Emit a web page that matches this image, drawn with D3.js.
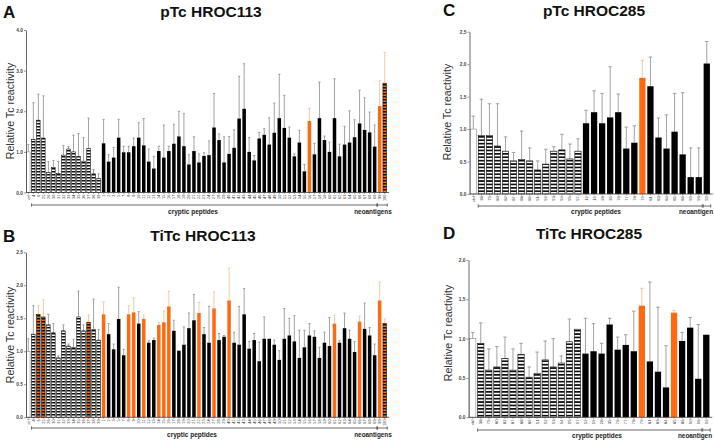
<!DOCTYPE html>
<html><head><meta charset="utf-8">
<script src="https://cdn.jsdelivr.net/npm/d3@7"></script>
<style>body{margin:0;background:#fff}svg{display:block}text{font-family:"Liberation Sans",Arial,sans-serif}</style>
</head><body>
<svg id="c" width="714" height="442"></svg>
<script>
// ---------- DATA ----------
const labels113 = ["ctrl","4","6","25","26","30","31","32","33","34","35","36","37","38","39",
"1","2","3","5","7","8","9","10","11","12","13","14","15","16","17","18","19","20","21","22","23","24","27","28","29",
"40","41","42","43","44","45","46","47","48","49","50","51","52","53","54","55","56","57","58","59","60","61","62","63","64","65","66","67","68","69","99","100"];
const labels285 = ["ctrl","38","75","80","82","87","88","89","91","92","93","94","95","97","12","19","28","35","76","77","78","79","81","83","84","85","86","90","96","99"];

const typesA = ["c","h","h","h","h","h","h","h","h","h","h","h","h","h","h",
"b","b","b","b","b","b","b","b","b","b","b","b","b","b","b","b","b","b","b","b","b","b","b","b","b","b","b","b","b","b","b","b","b","b","b","b","b","b","b","b","b",
"o","b","b","b","b","b","b","b","b","b","b","b","b","b","o","ho"];
const valuesA = [1.00,
1.31,1.78,1.34,0.49,0.62,0.47,0.92,1.07,1.00,0.89,0.77,1.08,0.46,0.34,
1.21,0.76,0.86,1.35,0.99,0.99,1.14,1.35,1.16,0.76,0.59,1.02,0.86,1.02,1.20,1.38,1.14,0.69,1.02,0.74,
0.90,0.92,1.60,1.29,0.74,0.95,1.10,1.82,2.06,1.00,0.79,1.33,1.42,1.18,1.47,1.83,1.59,1.35,0.89,1.23,0.52,
1.76,
0.94,1.83,1.29,1.00,1.83,0.89,1.18,1.23,1.36,1.70,1.54,1.48,1.13,
2.13,2.69];
const errA = [1.18,
2.21,2.42,2.38,0.76,0.79,0.76,1.16,1.14,1.41,1.45,1.35,1.83,0.57,0.46,
1.80,0.93,1.11,1.80,1.14,1.14,1.34,1.72,1.82,1.07,0.89,1.14,1.66,1.14,1.68,2.00,1.94,0.93,1.37,0.95,
0.98,1.27,2.44,1.44,1.37,1.38,1.54,2.86,3.17,1.35,0.91,1.48,1.57,1.84,2.20,2.91,2.39,1.61,0.95,1.53,0.69,
2.07,
1.21,2.72,1.39,1.24,2.80,1.19,1.63,2.01,1.79,2.52,2.33,1.98,1.66,
2.75,3.45];

const typesB = ["c","h","ho","ho","h","h","h","h","h","h","h","h","ho","h","h",
"o","b","b","b","b","o","o","b","o","b","b","o","o","o","b","b","b","b","b","o","b","b","o","b","b","o",
"b","b","b","b","b","b","b","b","b","b","b","b","b","b","b","b","b","b","b","b",
"o","b","b","b","b","o","b","b","b","o","ho"];
const valuesB = [1.00,
1.26,1.56,1.52,1.40,1.28,0.90,1.31,1.08,1.06,1.52,1.31,1.44,1.33,1.17,
1.56,1.26,1.03,1.49,0.94,1.56,1.59,1.42,1.49,1.13,
1.17,1.40,1.44,1.68,1.31,1.01,1.10,1.35,1.47,1.58,
1.26,1.13,1.65,1.17,1.22,1.77,1.13,1.10,1.56,1.04,
1.17,0.85,1.19,1.19,1.10,0.87,1.19,1.24,1.15,0.90,
1.06,1.24,1.22,0.90,1.13,1.08,1.42,1.13,1.35,1.19,
0.99,1.45,1.34,1.24,0.94,1.77,
1.42];
const errB = [1.19,
1.69,1.69,1.78,1.56,1.42,0.93,1.40,1.11,1.18,1.91,1.40,1.55,1.79,1.33,
1.75,1.42,1.11,1.97,1.03,1.69,1.81,1.60,1.55,1.16,
1.20,1.44,1.61,1.91,1.47,1.01,1.37,1.58,1.86,1.74,
1.36,1.68,1.90,1.27,1.24,2.26,1.29,1.68,1.95,1.15,
1.27,1.14,1.52,1.19,1.17,1.01,1.65,1.50,1.54,1.32,
1.32,1.42,1.31,1.06,1.29,1.51,1.55,1.16,1.58,1.32,
1.15,1.53,1.73,1.36,1.11,2.05,
1.49];

const typesC = ["c","h","h","h","h","h","h","h","h","h","h","h","h","h","b","b","b","b","b","b","b","o","b","b","b","b","b","b","b","b"];
const valuesC = [1.00,0.90,0.90,0.74,0.66,0.51,0.53,0.51,0.37,0.46,0.66,0.68,0.54,0.66,
1.09,1.26,1.09,1.18,1.26,0.70,0.79,1.79,1.66,0.87,0.70,0.96,0.61,0.26,0.26,2.01];
const errC = [1.20,1.46,1.39,1.39,0.88,0.64,0.97,0.71,0.51,0.69,0.73,0.92,0.77,0.85,
1.29,1.59,1.55,1.96,1.54,1.03,1.05,2.06,2.11,1.17,1.22,1.55,1.56,0.71,0.71,2.35];

const typesD = ["c","h","h","h","h","h","h","h","h","h","h","h","h","h","b","b","b","b","b","b","b","o","b","b","b","o","b","b","b","b"];
const valuesD = [1.00,0.94,0.60,0.64,0.75,0.60,0.80,0.51,0.56,0.73,0.64,0.69,0.96,1.12,
0.81,0.84,0.81,1.18,0.86,0.92,0.84,1.42,0.71,0.58,0.38,1.33,0.97,1.14,0.49,1.05];
const errD = [1.08,1.20,0.87,0.90,1.02,0.87,0.94,0.64,0.83,0.97,1.00,0.78,1.25,1.13,
1.26,1.19,0.94,1.26,1.02,1.05,1.35,1.64,1.72,1.40,0.91,1.36,1.08,1.27,1.18,1.05];

// ---------- DRAW ----------
const ORANGE = "#ff6a10";
const svg = d3.select("#c");
const defs = svg.append("defs");
function stripes(id, bg, h) {
  const p = defs.append("pattern").attr("id", id).attr("patternUnits", "userSpaceOnUse")
    .attr("width", 10).attr("height", h);
  p.append("rect").attr("width", 10).attr("height", h).attr("fill", bg);
  p.append("rect").attr("width", 10).attr("height", h * 0.5).attr("fill", "#111");
}
stripes("hS", "#fff", 3); stripes("hoS", ORANGE, 3);
stripes("hL", "#fff", 3.4); stripes("hoL", ORANGE, 3.4);

const panels = [
  {labels: labels113, values: valuesA, errs: errA, types: typesA, yMax: 4, step: 1,
   xr: [25.8, 387.2], axisX: 26, yr: [192.5, 30], pad: 0.3, cap: 2.2, pat: "S",
   letter: "A", lx: 3, ly: 18.3, title: "pTc HROC113", tx: 211, ty: 16.7, ylx: 10, yly: 111,
   bry: 205, txy: 214, crx: 193, neoN: 2, neoText: "neoantigens", nx: 373, lbl: 3.8},
  {labels: labels113, values: valuesB, errs: errB, types: typesB, yMax: 2.5, step: 0.5,
   xr: [25.8, 387.2], axisX: 26, yr: [417.3, 252.3], pad: 0.3, cap: 2.2, pat: "S",
   letter: "B", lx: 3, ly: 241.7, title: "TiTc HROC113", tx: 203, ty: 241, ylx: 10, yly: 335,
   bry: 428, txy: 437, crx: 192, neoN: 2, neoText: "neoantigens", nx: 373, lbl: 3.8},
  {labels: labels285, values: valuesC, errs: errC, types: typesC, yMax: 2.5, step: 0.5,
   xr: [469.3, 710.8], axisX: 469.5, yr: [194, 31.7], pad: 0.22, cap: 3.5, pat: "L",
   letter: "C", lx: 443, ly: 15.5, title: "pTc HROC285", tx: 594, ty: 16, ylx: 447.5, yly: 112,
   bry: 206, txy: 214, crx: 596, neoN: 1, neoText: "neoantigen", nx: 696, lbl: 4.2},
  {labels: labels285, values: valuesD, errs: errD, types: typesD, yMax: 2, step: 0.5,
   xr: [468.7, 710.3], axisX: 468.5, yr: [417.3, 260], pad: 0.22, cap: 3.5, pat: "L",
   letter: "D", lx: 443, ly: 238.5, title: "TiTc HROC285", tx: 589, ty: 238.5, ylx: 448, yly: 333,
   bry: 430, txy: 438, crx: 597, neoN: 1, neoText: "neoantigen", nx: 695, lbl: 4.2}
];

panels.forEach(p => {
  const n = p.values.length;
  const g = svg.append("g");
  const x = d3.scaleBand().domain(d3.range(n)).range(p.xr).paddingInner(p.pad).paddingOuter(p.pad / 2);
  const y = d3.scaleLinear().domain([0, p.yMax]).range(p.yr);
  const bw = x.bandwidth();
  const fill = t => t === "c" ? "#fff" : t === "h" ? `url(#h${p.pat})` : t === "ho" ? `url(#ho${p.pat})` : t === "o" ? ORANGE : "#000";
  const stroke = t => t === "c" ? "#8a8a8a" : (t === "h" || t === "ho") ? "#111" : "none";

  // error bars
  const eg = g.append("g");
  d3.range(n).forEach(i => {
    const v = p.values[i], e = p.errs[i];
    if (e - v < 0.01) return;
    const cx = x(i) + bw / 2;
    const col = (p.types[i] === "o" || p.types[i] === "ho") ? "#f6b98c" : "#8c8c8c";
    eg.append("line").attr("x1", cx).attr("x2", cx).attr("y1", y(v)).attr("y2", y(e))
      .attr("stroke", col).attr("stroke-width", 0.8);
    eg.append("line").attr("x1", cx - p.cap / 2).attr("x2", cx + p.cap / 2).attr("y1", y(e)).attr("y2", y(e))
      .attr("stroke", col).attr("stroke-width", 0.8);
  });

  // bars
  g.append("g").selectAll("rect").data(p.values).join("rect")
    .attr("x", (d, i) => x(i)).attr("width", bw)
    .attr("y", d => y(d)).attr("height", d => y(0) - y(d))
    .attr("fill", (d, i) => fill(p.types[i]))
    .attr("stroke", (d, i) => stroke(p.types[i])).attr("stroke-width", 0.6);

  // y axis
  const ya = g.append("g").attr("transform", `translate(${p.axisX},0)`)
    .call(d3.axisLeft(y).tickValues(d3.range(0, p.yMax + 1e-9, p.step)).tickFormat(d3.format(".1f")).tickSize(2).tickSizeOuter(0).tickPadding(1));
  ya.select(".domain").attr("stroke", "#444").attr("stroke-width", 0.8);
  ya.selectAll(".tick line").attr("stroke", "#444").attr("stroke-width", 0.6);
  ya.selectAll(".tick text").attr("font-size", 4.8).attr("font-weight", "bold").attr("fill", "#444")
    .attr("font-family", '"Liberation Sans",Arial,sans-serif');

  // x axis
  const xa = g.append("g").attr("transform", `translate(0,${y(0)})`)
    .call(d3.axisBottom(x).tickFormat(i => p.labels[i]).tickSize(1.5).tickSizeOuter(0));
  xa.select(".domain").attr("stroke", "#444").attr("stroke-width", 0.8)
    .attr("d", `M${p.axisX},0H${p.xr[1] + 2}`);
  xa.selectAll(".tick line").attr("stroke", "#444").attr("stroke-width", 0.5);
  xa.selectAll(".tick text").attr("font-size", p.lbl).attr("fill", "#333")
    .attr("font-family", '"Liberation Sans",Arial,sans-serif')
    .attr("transform", "rotate(-90)").attr("text-anchor", "end")
    .attr("x", -2.2).attr("y", 0).attr("dy", "0.35em");

  // brackets
  const bg = g.append("g").attr("stroke", "#444").attr("stroke-width", 0.8);
  const bracket = (a, b) => {
    bg.append("line").attr("x1", a).attr("x2", b).attr("y1", p.bry).attr("y2", p.bry);
    bg.append("line").attr("x1", a).attr("x2", a).attr("y1", p.bry - 1.6).attr("y2", p.bry + 1.6);
    bg.append("line").attr("x1", b).attr("x2", b).attr("y1", p.bry - 1.6).attr("y2", p.bry + 1.6);
  };
  const lastC = n - p.neoN - 1;
  bracket(x(1), x(lastC) + bw + 0.4);
  bracket(x(lastC + 1) - 0.4, x(n - 1) + bw + 0.8);
  g.append("text").attr("x", p.crx).attr("y", p.txy).attr("text-anchor", "middle")
    .attr("font-size", 6.5).attr("font-weight", "bold").attr("fill", "#222").text("cryptic peptides");
  g.append("text").attr("x", p.nx).attr("y", p.txy).attr("text-anchor", "middle")
    .attr("font-size", 6.4).attr("font-weight", "bold").attr("fill", "#222").text(p.neoText);

  // labels
  g.append("text").attr("x", p.lx).attr("y", p.ly).attr("font-size", 17).attr("font-weight", "bold")
    .attr("fill", "#111").text(p.letter);
  g.append("text").attr("x", p.tx).attr("y", p.ty).attr("text-anchor", "middle").attr("font-size", 15.5)
    .attr("font-weight", "bold").attr("fill", "#111").text(p.title);
  g.append("text").attr("transform", `translate(${p.ylx},${p.yly}) rotate(-90)`).attr("text-anchor", "middle")
    .attr("dy", "0.35em").attr("font-size", 10.6).attr("fill", "#333").text("Relative Tc reactivity");
});
</script>
</body></html>
